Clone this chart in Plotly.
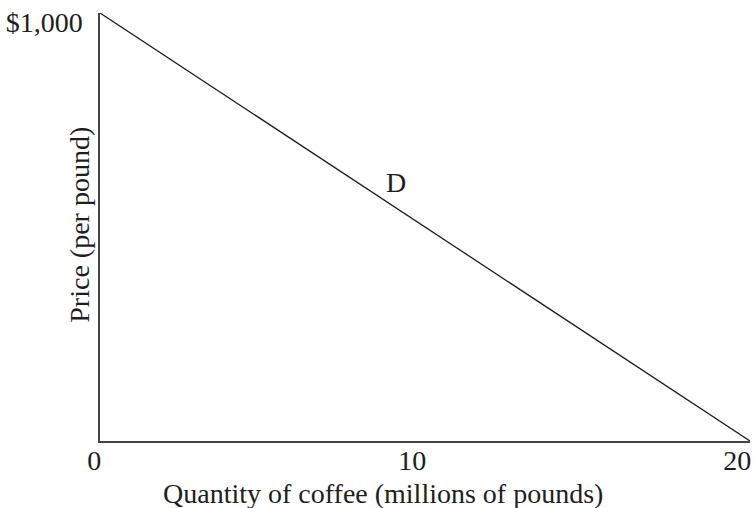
import plotly.graph_objects as go

quantity = [0, 20]
price = [1000, 0]
x_ticks = [0, 10, 20]
x_tick_labels = ["0", "10", "20"]
y_ticks = [1000]
y_tick_labels = ["$1,000"]
curve_label = "D"
curve_label_pos = (9.1, 603)
x_title = "Quantity of coffee (millions of pounds)"
y_title = "Price (per pound)"

FONT = "Liberation Serif"
SIZE = 28
INK = "#1e1e1e"

fig = go.Figure()
fig.add_trace(go.Scatter(x=quantity, y=price, mode="lines",
                         line=dict(color=INK, width=1.3),
                         hoverinfo="skip", showlegend=False, cliponaxis=False))
fig.add_annotation(x=curve_label_pos[0], y=curve_label_pos[1], text=curve_label,
                   showarrow=False, font=dict(family=FONT, size=SIZE, color=INK))
fig.add_annotation(xref="paper", yref="paper", x=0.435, y=0, yanchor="middle",
                   yshift=-52, text=x_title, showarrow=False,
                   font=dict(family=FONT, size=SIZE, color=INK))
fig.add_annotation(xref="paper", yref="paper", x=-0.031, y=0.505, xanchor="center",
                   yanchor="middle", textangle=-90, text=y_title, showarrow=False,
                   font=dict(family=FONT, size=SIZE, color=INK))

fig.update_layout(
    width=756, height=508,
    margin=dict(l=100, r=6, t=13, b=67),
    paper_bgcolor="white", plot_bgcolor="white",
    font=dict(family=FONT, size=SIZE, color=INK),
    xaxis=dict(range=[0, 20], tickvals=x_ticks, ticktext=x_tick_labels,
               showgrid=False, zeroline=False, showline=True, linecolor="#444444",
               linewidth=1.5, ticks="", ticklabelstandoff=-6, ticklabelshift=2,
               ticklabelposition="outside left", ticklabeloverflow="allow",
               automargin=False, fixedrange=True),
    yaxis=dict(range=[0, 1000], tickvals=y_ticks, ticktext=y_tick_labels,
               showgrid=False, zeroline=False, showline=True, linecolor="#444444",
               linewidth=1.5, ticks="", ticklabelstandoff=10, ticklabelshift=9,
               ticklabeloverflow="allow", automargin=False, fixedrange=True),
)

fig.write_html("out.html", config={"displayModeBar": False})

with open("out.html", "r", encoding="utf-8") as f:
    page = f.read()
page = page.replace("<head>", "<head><style>html,body{margin:0;padding:0;overflow:hidden}</style>", 1)
with open("out.html", "w", encoding="utf-8") as f:
    f.write(page)
